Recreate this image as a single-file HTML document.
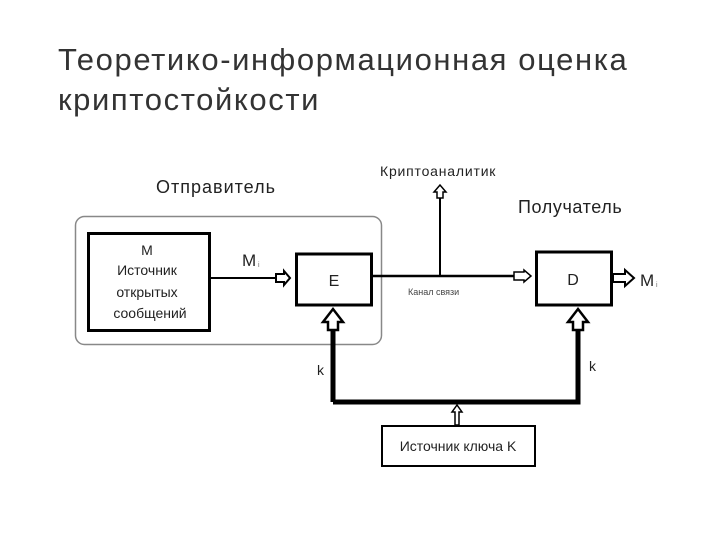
<!DOCTYPE html>
<html><head><meta charset="utf-8"><style>
body{margin:0;width:720px;height:540px;background:#fff;overflow:hidden;font-family:"Liberation Sans",sans-serif;}
.t{position:absolute;left:58px;top:40px;font-size:31px;line-height:40px;color:#333;letter-spacing:1.6px;}
</style></head><body>
<div class="t">Теоретико-информационная оценка<br>криптостойкости</div>
<svg width="720" height="540" style="position:absolute;left:0;top:0" font-family="Liberation Sans, sans-serif">
<rect x="75.5" y="216.5" width="306" height="128" rx="9" fill="none" stroke="#888" stroke-width="1.5"/>
<text x="156" y="193" font-size="18" fill="#222" letter-spacing="1">Отправитель</text>
<text x="380" y="176" font-size="14" fill="#222" letter-spacing="0.8">Криптоаналитик</text>
<text x="518" y="213" font-size="18" fill="#222" letter-spacing="0.6">Получатель</text>
<rect x="88.5" y="233.5" width="121" height="97" fill="none" stroke="#000" stroke-width="3"/>
<g font-size="14" fill="#222" text-anchor="middle">
<text x="147" y="255">M</text><text x="147" y="275">Источник</text><text x="147" y="297">открытых</text><text x="150" y="318">сообщений</text></g>
<line x1="210" y1="278" x2="285" y2="278" stroke="#000" stroke-width="2"/>
<path d="M276,274 h8 v-3 l6,7 -6,7 v-3 h-8z" fill="#fff" stroke="#000" stroke-width="2"/>
<text x="242" y="266" font-size="17" fill="#222">M</text><text x="258" y="267" font-size="7" fill="#666">i</text>
<rect x="296.5" y="254" width="75" height="51" fill="none" stroke="#000" stroke-width="3"/>
<text x="334" y="286" font-size="16" text-anchor="middle" fill="#222">E</text>
<line x1="372" y1="276" x2="528" y2="276" stroke="#000" stroke-width="2.5"/>
<path d="M514,272 h10 v-2 l7,6 -7,6 v-2 h-10z" fill="#fff" stroke="#000" stroke-width="1.5"/>
<line x1="440" y1="276" x2="440" y2="193" stroke="#000" stroke-width="2"/>
<path d="M437,198 v-6 h-3 l6,-7 6,7 h-3 v6z" fill="#fff" stroke="#000" stroke-width="1.5"/>
<text x="408" y="295" font-size="9" fill="#444">Канал связи</text>
<rect x="536.5" y="252" width="75" height="53" fill="none" stroke="#000" stroke-width="3"/>
<text x="573" y="285" font-size="16" text-anchor="middle" fill="#222">D</text>
<path d="M613,274 h12 v-4 l9,8 -9,8 v-4 h-12z" fill="#fff" stroke="#000" stroke-width="2"/>
<text x="640" y="286" font-size="17" fill="#222">M</text><text x="656" y="287" font-size="7" fill="#666">i</text>
<path d="M333,402 V328 M333,402 H578 V328" fill="none" stroke="#000" stroke-width="5"/>
<path d="M328,330 v-8 h-5 l10,-13 10,13 h-5 v8z" fill="#fff" stroke="#000" stroke-width="2.5"/>
<path d="M573,330 v-8 h-5 l10,-13 10,13 h-5 v8z" fill="#fff" stroke="#000" stroke-width="2.5"/>
<path d="M455,425 v-13 h-3 l5,-7 5,7 h-3 v13z" fill="#fff" stroke="#000" stroke-width="1.5"/>
<text x="317" y="375" font-size="14" fill="#222">k</text>
<text x="589" y="371" font-size="14" fill="#222">k</text>
<rect x="382" y="426" width="153" height="40" fill="none" stroke="#000" stroke-width="2"/>
<text x="458" y="451" font-size="14" text-anchor="middle" fill="#222">Источник ключа K</text>
</svg>
</body></html>
